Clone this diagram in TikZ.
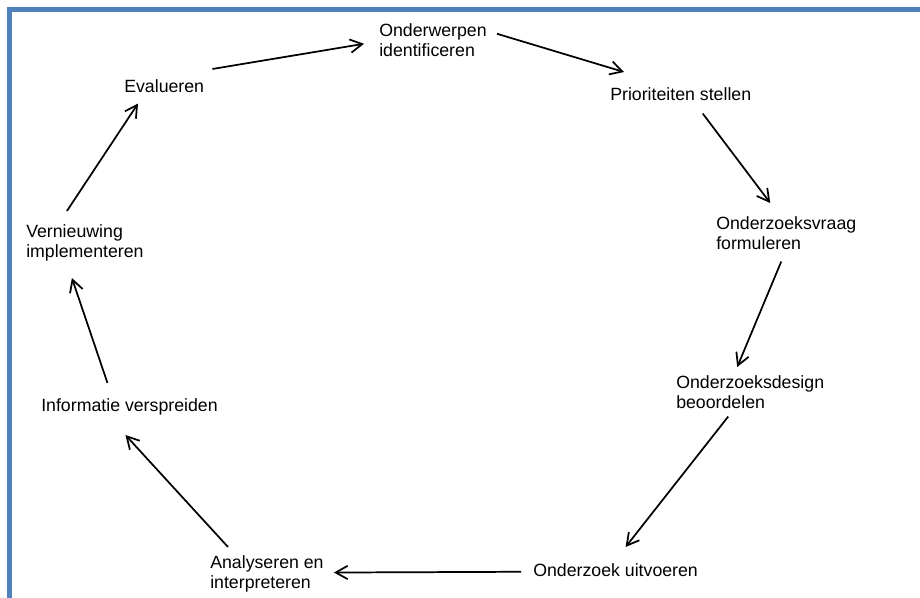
\documentclass[tikz,border=0pt]{standalone}
\usepackage{fontspec}
\setmainfont{Liberation Sans}
\usepackage{xcolor}
\usetikzlibrary{arrows.meta}
\definecolor{kader}{RGB}{79,129,189}

\begin{document}
\begin{tikzpicture}[x=0.75pt, y=-0.75pt, fase/.style={anchor=north west, inner sep=0pt, align=left, font=\fontsize{13.3pt}{15pt}\selectfont}, pijl/.style={-{Straight Barb[length=9pt,width=10pt]}, line width=1.3pt}]
    \useasboundingbox (0,0) rectangle (920,598);
    \draw[kader, line width=4.1pt] (9.5,598) -- (9.5,9.5) -- (920,9.5);

    \node[fase] (onderwerp) at (379,23) {Onderwerpen\\identificeren};
    \node[fase] (prio) at (610,87) {Prioriteiten stellen};
    \node[fase] (vraag) at (716,216) {Onderzoeksvraag\\formuleren};
    \node[fase] (design) at (676,375) {Onderzoeksdesign\\beoordelen};
    \node[fase] (uitvoer) at (533,563) {Onderzoek uitvoeren};
    \node[fase] (analyse) at (210,555) {Analyseren en\\interpreteren};
    \node[fase] (info) at (41,398) {Informatie verspreiden};
    \node[fase] (vernieuw) at (26,224) {Vernieuwing\\implementeren};
    \node[fase] (eval) at (124,79) {Evalueren};

    \draw[pijl] ([shift={(8,-10)}]eval.north east) -- ([shift={(-15,4)}]onderwerp.west);
    \draw[pijl] ([shift={(10,-6)}]onderwerp.east) -- ([shift={(14,-15)}]prio.north west);
    \draw[pijl] ([shift={(22,13)}]prio.south) -- ([shift={(-16,-13)}]vraag.north);
    \draw[pijl] ([shift={(-5,12)}]vraag.south) -- ([shift={(-13,-8)}]design.north);
    \draw[pijl] ([shift={(-22,8)}]design.south) -- ([shift={(10,-16)}]uitvoer.north);
    \draw[pijl] ([shift={(-12,2)}]uitvoer.west) -- ([shift={(10,-1)}]analyse.east);
    \draw[pijl] ([shift={(18,-8)}]analyse.north west) -- ([shift={(-4,20)}]info.south);
    \draw[pijl] ([shift={(-22,-15)}]info.north) -- ([shift={(-13,17)}]vernieuw.south);
    \draw[pijl] ([shift={(-18,-13)}]vernieuw.north) -- ([shift={(14,11)}]eval.south west);

\end{tikzpicture}
\end{document}
